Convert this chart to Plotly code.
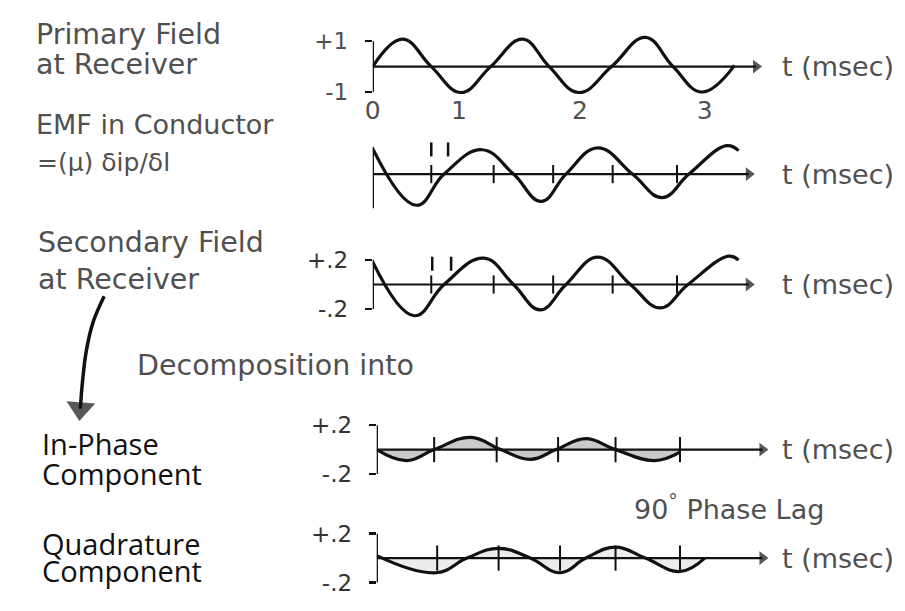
import plotly.graph_objects as go

W, H = 905, 611

# ---------------- data (time in msec, amplitudes in panel units) ----------------
primary_t = [0, 0.246, 0.484, 0.730, 0.975, 1.238, 1.459, 1.705, 1.975, 2.254, 2.484, 2.721, 2.992]
primary_v = [0, 1.08, 0, -1.02, 0, 1.08, 0, -1.02, 0, 1.15, 0, -1.0, 0.05]

emf_t = [0, 0.361, 0.590, 0.902, 1.164, 1.393, 1.598, 1.861, 2.148, 2.393, 2.615, 2.926, 3.025]
emf_v = [0.93, -1.14, 0, 0.89, 0, -1.0, 0, 0.96, 0, -0.86, 0, 1.04, 0.86]

secondary_t = [0, 0.344, 0.590, 0.918, 1.164, 1.385, 1.598, 1.861, 2.131, 2.377, 2.607, 2.943, 3.025]
secondary_v = [0.184, -0.256, 0, 0.216, 0, -0.208, 0, 0.224, 0, -0.192, 0, 0.232, 0.2]

inphase_t = [0, 0.246, 0.475, 0.779, 1.025, 1.27, 1.484, 1.73, 1.975, 2.295, 2.508]
inphase_v = [0, -0.09, 0, 0.1, 0, -0.08, 0, 0.09, 0, -0.09, -0.02]

quad_t = [0, 0.492, 0.746, 1.008, 1.27, 1.516, 1.73, 1.975, 2.221, 2.508, 2.713]
quad_v = [0.02, -0.12, 0, 0.08, 0, -0.12, 0, 0.09, 0, -0.11, 0]

# axis tick marks on the time axes (msec)
emf_marks_t = [0.484, 1.0, 1.492, 1.984, 2.516]
sec_marks_t = [0.484, 1.0, 1.492, 1.984, 2.516]
inphase_marks_t = [0.475, 0.992, 1.5, 1.975, 2.508]
quad_marks_t = [0.5, 1.008, 1.516, 1.975, 2.508]
emf_dash_t = [0.484, 0.623]
sec_dash_t = [0.492, 0.648]

# time tick labels of the top panel
time_tickvals = [0, 0.713, 1.713, 2.746]
time_ticktext = ["0", "1", "2", "3"]

# amplitude bracket labels
primary_yticks = [-1, 1]
primary_ylabels = ["-1", "+1"]
small_yticks = [-0.2, 0.2]
small_ylabels = ["-.2", "+.2"]
emf_bracket = [-1.25, 1.0]

# ---------------- layout geometry (pixels) ----------------
PX_PER_MS = 122
T_MAX = 3.3
panels = [
    # x0 px, axis y px, px per unit, y range, arrow tip (ms)
    dict(x0=368, y0=61, ppu=26, yr=[-1.35, 1.35], tip=3.17),
    dict(x0=368, y0=171, ppu=28, yr=[-1.45, 1.35], tip=3.11),
    dict(x0=368, y0=284, ppu=125, yr=[-0.3, 0.27], tip=3.11),
    dict(x0=372, y0=453, ppu=125, yr=[-0.25, 0.25], tip=3.19),
    dict(x0=372, y0=564, ppu=125, yr=[-0.25, 0.25], tip=3.19),
]

# curved pointer from "Secondary Field" down to the decomposition (pixels)
pointer_x = [97, 86, 79, 75, 73]
pointer_y = [296, 322, 352, 385, 411]

def pxx(x):
    return x / W

def pxy(y):
    return 1 - y / H

TXT = "#505050"
INK = "#111111"
FONT = "DejaVu Sans"

def ax_names(i):
    return ("x" if i == 1 else f"x{i}"), ("y" if i == 1 else f"y{i}")

fig = go.Figure()

series = [
    (primary_t, primary_v, None),
    (emf_t, emf_v, None),
    (secondary_t, secondary_v, None),
    (inphase_t, inphase_v, "rgba(150,150,150,0.5)"),
    (quad_t, quad_v, "rgba(170,170,170,0.22)"),
]

for i, (t, v, fillc) in enumerate(series, start=1):
    xa, ya = ax_names(i)
    fig.add_trace(go.Scatter(
        x=t, y=v, xaxis=xa, yaxis=ya, mode="lines",
        line=dict(color=INK, width=3.2, shape="spline", smoothing=1.2),
        fill="tozeroy" if fillc else None, fillcolor=fillc,
        hoverinfo="skip", showlegend=False))

def add_marks(i, ts, yval, size, width=2):
    xa, ya = ax_names(i)
    fig.add_trace(go.Scatter(
        x=ts, y=[yval] * len(ts), xaxis=xa, yaxis=ya, mode="markers",
        marker=dict(symbol="line-ns", size=size, line=dict(color=INK, width=width)),
        hoverinfo="skip", showlegend=False, cliponaxis=False))

add_marks(2, emf_marks_t, 0, 13)
add_marks(3, sec_marks_t, 0, 13)
add_marks(4, inphase_marks_t, 0, 18)
add_marks(5, quad_marks_t, 0, 18)
add_marks(2, emf_dash_t, 0.9, 10, 2.5)
add_marks(3, sec_dash_t, 0.17, 10, 2.5)

# time axes drawn as arrows
for i, p in enumerate(panels, start=1):
    xa, ya = ax_names(i)
    fig.add_trace(go.Scatter(
        x=[0, p["tip"]], y=[0, 0], xaxis=xa, yaxis=ya, mode="lines+markers",
        line=dict(color=INK, width=2.2),
        marker=dict(symbol="triangle-up", size=[0, 12], angleref="previous",
                    color=INK, line=dict(width=0)),
        hoverinfo="skip", showlegend=False, cliponaxis=False))

# pointer arrow on a full-figure pixel axis
fig.add_trace(go.Scatter(
    x=pointer_x, y=pointer_y, xaxis="x6", yaxis="y6", mode="lines+markers",
    line=dict(color=INK, width=3.5, shape="spline"),
    marker=dict(symbol="triangle-up", size=[0, 0, 0, 0, 25], angleref="previous",
                color=INK, line=dict(width=0)),
    hoverinfo="skip", showlegend=False, cliponaxis=False))

layout = dict(
    width=W, height=H, margin=dict(l=0, r=0, t=0, b=0),
    paper_bgcolor="white", plot_bgcolor="rgba(0,0,0,0)",
    showlegend=False,
    xaxis6=dict(domain=[0, 1], range=[0, W], visible=False, fixedrange=True, anchor="y6"),
    yaxis6=dict(domain=[0, 1], range=[H, 0], visible=False, fixedrange=True, anchor="x6"),
)

shapes = []
annotations = []

for i, p in enumerate(panels, start=1):
    xk = "xaxis" if i == 1 else f"xaxis{i}"
    yk = "yaxis" if i == 1 else f"yaxis{i}"
    xa, ya = ax_names(i)
    xd = [pxx(p["x0"]), pxx(p["x0"] + T_MAX * PX_PER_MS)]
    top = p["y0"] - p["ppu"] * p["yr"][1]
    bot = p["y0"] - p["ppu"] * p["yr"][0]
    yd = [pxy(bot), pxy(top)]
    xaxis = dict(domain=xd, range=[0, T_MAX], anchor=ya, showgrid=False,
                 zeroline=False, showline=False, ticks="", fixedrange=True)
    if i == 1:
        xaxis.update(tickvals=time_tickvals, ticktext=time_ticktext,
                     tickfont=dict(family=FONT, size=25, color=TXT),
                     anchor="free", position=pxy(88))
    else:
        xaxis.update(showticklabels=False)
    yaxis = dict(domain=yd, range=p["yr"], anchor=xa, showgrid=False,
                 zeroline=False, showline=False, fixedrange=True)
    if i == 1:
        yaxis.update(tickvals=primary_yticks, ticktext=primary_ylabels,
                     ticks="outside", ticklen=7, tickwidth=2.5, tickcolor=INK,
                     tickfont=dict(family=FONT, size=23, color=TXT),
                     ticklabelstandoff=12)
        br = primary_yticks
    elif i == 2:
        yaxis.update(showticklabels=False, ticks="")
        br = emf_bracket
    else:
        yaxis.update(tickvals=small_yticks, ticktext=small_ylabels,
                     ticks="outside", ticklen=7, tickwidth=2.5, tickcolor=INK,
                     tickfont=dict(family=FONT, size=23, color="#333"),
                     ticklabelstandoff=12)
        br = small_yticks
    layout[xk] = xaxis
    layout[yk] = yaxis
    # bracket (vertical amplitude axis)
    shapes.append(dict(type="line", xref=xa, yref=ya, x0=0, x1=0,
                       y0=min(br), y1=max(br), line=dict(color=INK, width=2.5)))
    annotations.append(dict(x=pxx(779), y=pxy(p["y0"]), xref="paper", yref="paper",
                            xanchor="left", yanchor="middle", showarrow=False,
                            text="t (msec)", font=dict(family=FONT, size=27, color=TXT)))

def label(x, y, text, size=28, color=TXT, family=FONT):
    annotations.append(dict(x=pxx(x), y=pxy(y), xref="paper", yref="paper",
                            xanchor="left", yanchor="middle", showarrow=False,
                            text=text, font=dict(family=family, size=size, color=color)))

label(26, 28, "Primary Field", size=28.5)
label(26, 59, "at Receiver", size=28.5)
label(26, 120, "EMF in Conductor", size=27)
label(27, 159, "=(μ) δip/δl", size=25)
label(28, 241, "Secondary Field", size=28.5)
label(28, 279, "at Receiver", size=28.5)
label(128, 367, "Decomposition into", size=28.5)
label(32, 447, "In-Phase", size=29, color=INK, family="Open Sans")
label(32, 477, "Component", size=29, color=INK, family="Open Sans")
label(32, 549, "Quadrature", size=29, color=INK, family="Open Sans")
label(32, 577, "Component", size=29, color=INK, family="Open Sans")
label(630, 512, "90<sup>°</sup> Phase Lag", size=27)

layout["shapes"] = shapes
layout["annotations"] = annotations
fig.update_layout(**layout)

fig.write_html(
    "out.html",
    config={"displayModeBar": False, "staticPlot": True},
    post_script="document.body.style.margin='0';document.body.style.padding='0';",
)
